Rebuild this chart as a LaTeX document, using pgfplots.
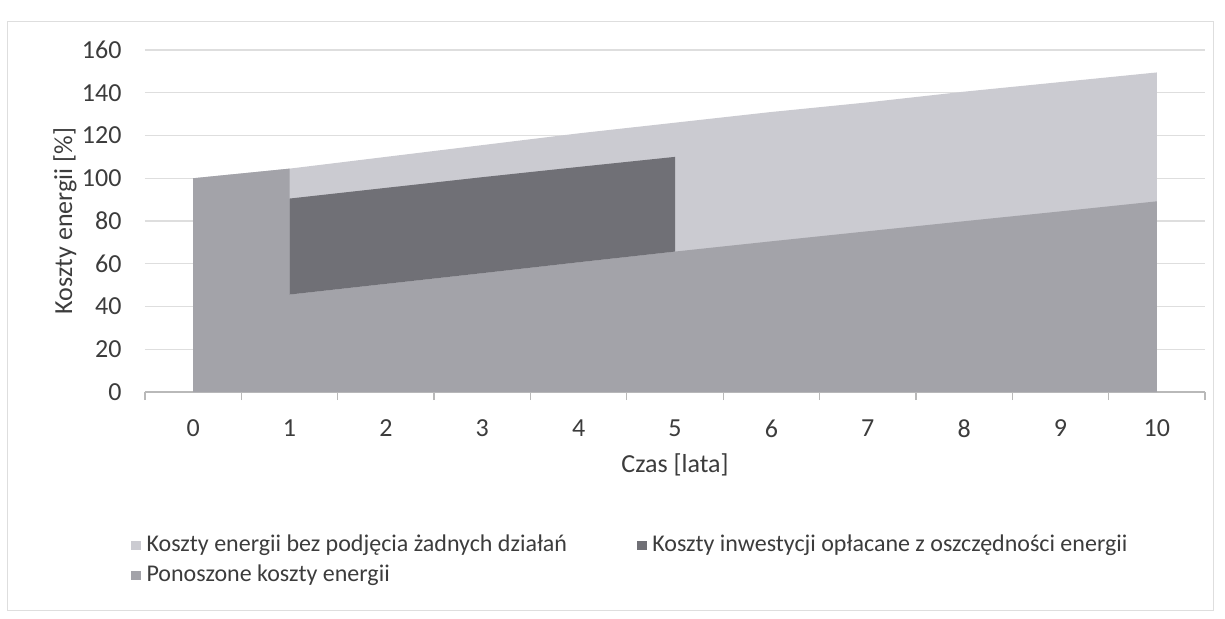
\documentclass[border=0pt]{standalone}
\usepackage{pgfplots}
\pgfplotsset{compat=1.18}
\usepackage{fontspec}
\setmainfont{Carlito}
\definecolor{cLight}{RGB}{203,203,209}
\definecolor{cMed}{RGB}{163,163,169}
\definecolor{cDark}{RGB}{112,112,118}
\definecolor{cText}{RGB}{60,60,60}
\definecolor{cGrid}{RGB}{222,222,222}
\definecolor{cAxis}{RGB}{185,185,185}
\begin{document}
\begin{tikzpicture}
\useasboundingbox (-72.5bp,-113.5bp) rectangle (540bp,196bp);
\draw[cGrid, line width=0.5pt] (-69bp,-109bp) rectangle (534bp,185bp);
\begin{axis}[
  at={(0,0)}, anchor=south west,
  scale only axis,
  width=530bp, height=171bp,
  xmin=-0.5, xmax=10.5,
  ymin=0, ymax=160,
  ytick={0,20,...,160},
  xtick={0,...,10},
  minor xtick={-0.5,0.5,...,10.5},
  major x tick style={draw=none},
  minor x tick style={draw=cAxis, line width=0.6pt},
  minor tick length=4bp,
  tick align=outside,
  axis x line*=bottom,
  axis y line*=left,
  x axis line style={-, draw=cAxis, line width=0.6pt},
  y axis line style={draw=none},
  ytick style={draw=none},
  ymajorgrids,
  grid style={cGrid, line width=0.6pt},
  /pgf/number format/assume math mode=true,
  tick label style={text=cText, font=\fontsize{13bp}{15bp}\selectfont},
  yticklabel style={xshift=-4bp},
  xticklabel style={yshift=-6bp},
  xlabel={Czas [lata]},
  ylabel={Koszty energii [\%]},
  label style={text=cText, font=\fontsize{13bp}{15bp}\selectfont},
  xlabel style={at={(axis description cs:0.5,0)}, anchor=center, yshift=-36.5bp},
  ylabel style={at={([xshift=-40bp]axis description cs:0,0.5)}, anchor=center},
  legend columns=2,
  legend cell align=left,
  legend style={draw=none, fill=none, at={(axis description cs:0,0)}, anchor=north west,
    xshift=-10bp, yshift=-68bp, text=cText, font=\fontsize{12bp}{14bp}\selectfont,
    nodes={inner xsep=1bp, inner ysep=0.5bp, text height=9bp, text depth=3bp},
    /tikz/column 1/.style={column sep=2bp},
    /tikz/column 2/.style={column sep=34bp},
    /tikz/column 3/.style={column sep=2bp},
    row sep=2bp},
]
\addlegendimage{legend image code/.code={\fill[cLight] (0bp,-2.1bp) rectangle (4.2bp,2.1bp);}}
\addlegendentry{Koszty energii bez podjęcia żadnych działań}
\addlegendimage{legend image code/.code={\fill[cDark] (0bp,-2.1bp) rectangle (4.2bp,2.1bp);}}
\addlegendentry{Koszty inwestycji opłacane z oszczędności energii}
\addlegendimage{legend image code/.code={\fill[cMed] (0bp,-2.1bp) rectangle (4.2bp,2.1bp);}}
\addlegendentry{Ponoszone koszty energii}

% Koszty energii bez podjęcia żadnych działań
\addplot[fill=cLight, draw=none, forget plot] coordinates {
  (0,100) (1,104.5) (2,110) (3,115.5) (4,121) (5,126) (6,131) (7,135.5) (8,140.5) (9,145) (10,149.5)
} \closedcycle;
% Ponoszone koszty energii
\addplot[fill=cMed, draw=none, forget plot] coordinates {
  (0,100) (1,104.5) (1,45.6) (2,50.6) (3,55.6) (4,60.7) (5,65.7) (6,70.5) (7,75.2) (8,79.9) (9,84.5) (10,89.2)
} \closedcycle;
% Koszty inwestycji opłacane z oszczędności energii
\addplot[fill=cDark, draw=none, forget plot] coordinates {
  (1,45.6) (1,90.5) (2,95.5) (3,100.5) (4,105.3) (5,110) (5,65.7) (4,60.7) (3,55.6) (2,50.6)
} -- cycle;
\end{axis}
\end{tikzpicture}
\end{document}
